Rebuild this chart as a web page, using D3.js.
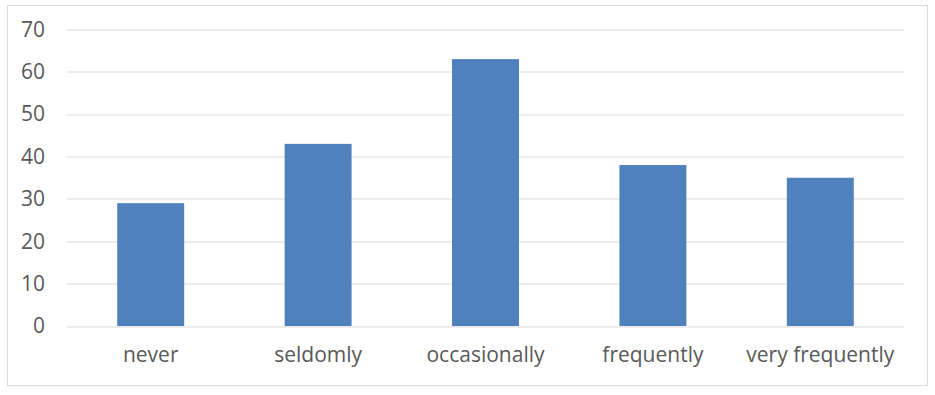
<!DOCTYPE html>
<html>
<head>
<meta charset="utf-8">
<script src="https://cdn.jsdelivr.net/npm/d3@7"></script>
<style>
  body { margin: 0; background: #fff; }
  text { font-family: "Open Sans", sans-serif; fill: #595959; }
</style>
</head>
<body>
<div id="chart"></div>
<script>
// data
var categories = ["never", "seldomly", "occasionally", "frequently", "very frequently"];
var values = [29, 43, 63, 38, 35];
var yTicks = [0, 10, 20, 30, 40, 50, 60, 70];

var W = 935, H = 395;
var margin = {top: 29.5, right: 31, bottom: 69, left: 67},
    width = W - margin.left - margin.right,
    height = H - margin.top - margin.bottom;

var svg = d3.select("#chart")
  .append("svg")
    .attr("width", W)
    .attr("height", H);

// outer chart border
svg.append("rect")
  .attr("x", 7.5).attr("y", 5.5)
  .attr("width", 920).attr("height", 380)
  .attr("fill", "#fff")
  .attr("stroke", "#d9d9d9");

var g = svg.append("g")
  .attr("transform", "translate(" + margin.left + "," + margin.top + ")");

var x = d3.scaleBand()
  .domain(categories)
  .range([0, width])
  .paddingInner(0.6)
  .paddingOuter(0.3);

var y = d3.scaleLinear()
  .domain([0, 70])
  .range([height, 0]);

// gridlines
g.append("g")
  .selectAll("line")
  .data(yTicks)
  .join("line")
    .attr("x1", 0).attr("x2", width)
    .attr("y1", d => Math.round(y(d)) + 0.5)
    .attr("y2", d => Math.round(y(d)) + 0.5)
    .attr("stroke", "#d9d9d9");

// y axis labels
var yAxis = g.append("g")
  .call(d3.axisLeft(y).tickValues(yTicks).tickSize(0).tickPadding(22));
yAxis.select(".domain").remove();
yAxis.selectAll("text")
  .style("font-size", "21px")
  .attr("fill", "#595959");

// bars
g.append("g")
  .selectAll("rect")
  .data(values)
  .join("rect")
    .attr("x", (d, i) => x(categories[i]))
    .attr("y", d => y(d))
    .attr("width", x.bandwidth())
    .attr("height", d => height - y(d))
    .attr("fill", "#4f81bd");

// x axis labels
var xAxis = g.append("g")
  .attr("transform", "translate(0," + height + ")")
  .call(d3.axisBottom(x).tickSize(0).tickPadding(21));
xAxis.select(".domain").remove();
xAxis.selectAll("text")
  .style("font-size", "21px")
  .attr("fill", "#595959");
</script>
</body>
</html>
